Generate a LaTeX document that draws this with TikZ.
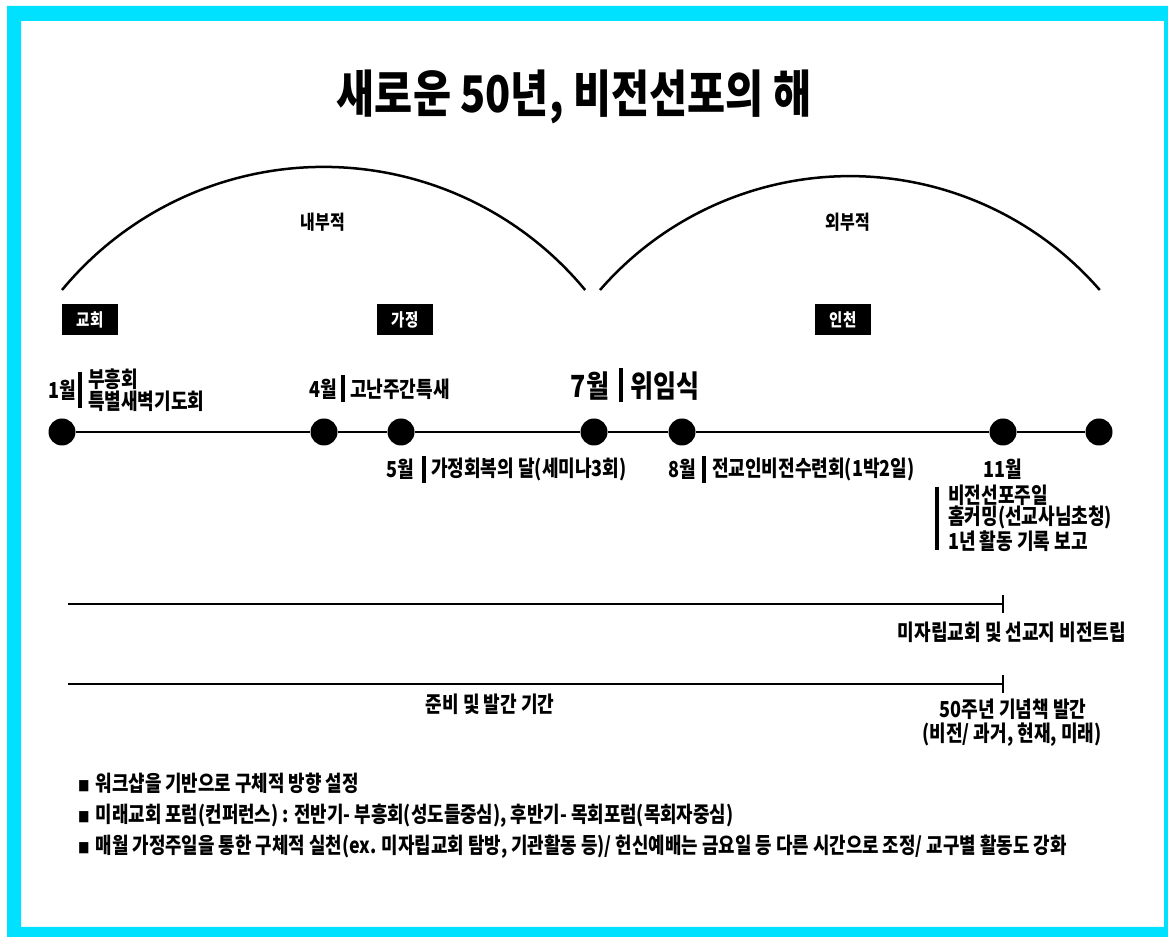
\documentclass[tikz,border=0pt]{standalone}
\usepackage{fontspec}
\setmainfont{Noto Sans CJK KR}[FakeStretch=0.82]
\definecolor{framecyan}{HTML}{00E1FF}
\begin{document}
\begin{tikzpicture}[x=1pt,y=1pt,
  title/.style={font=\fontsize{50.5}{52}\selectfont\bfseries, inner sep=0pt},
  lab/.style={font=\fontsize{22}{21.5}\selectfont\bfseries, inner sep=0pt},
  biglab/.style={font=\fontsize{30.5}{32}\selectfont\bfseries, inner sep=0pt},
  arclab/.style={font=\fontsize{19.5}{20}\selectfont\bfseries, inner sep=0pt},
  tagbox/.style={fill=black, text=white, font=\fontsize{17.6}{18}\selectfont\bfseries,
    minimum width=56pt, minimum height=31pt, inner sep=0pt},
  dot/.style={circle, fill=black, minimum size=27pt, inner sep=0pt},
  arcline/.style={line width=2.5pt},
  tl/.style={line width=2.6pt},
  sepbar/.style={line width=4pt},
  span/.style={line width=2.6pt},
  tick/.style={line width=1.6pt},
  bul/.style={font=\fontsize{21.8}{22}\selectfont\bfseries, inner sep=0pt, anchor=west}
]
\useasboundingbox (0,0) rectangle (1168,937);
\fill[white] (0,0) rectangle (1168,937);
\fill[framecyan, even odd rule] (7,0) rectangle (1168,931) (21,10) rectangle (1164,916);

% title
\node[title] (title) at (574,840) {새로운 50년, 비전선포의 해};

% arcs
\draw[arcline] (62,647) arc[start angle=140.4, end angle=39.6, radius=339.5pt];
\draw[arcline] (600,647) arc[start angle=139.0, end angle=41.0, radius=331.1pt];
\node[arclab] (naebu) at (323,715) {내부적};
\node[arclab] (oebu) at (848,715) {외부적};

% tags
\node[tagbox] (t1) at (90,617) {교회};
\node[tagbox] (t2) at (405,617) {가정};
\node[tagbox] (t3) at (843,617) {인천};

% timeline
\node[dot] (d1) at (62,505) {};
\node[dot] (d2) at (324,505) {};
\node[dot] (d3) at (401,505) {};
\node[dot] (d4) at (594,505) {};
\node[dot] (d5) at (682,505) {};
\node[dot] (d6) at (1003,505) {};
\node[dot] (d7) at (1099,505) {};
\draw[tl] (d1) -- (d2) -- (d3) -- (d4) -- (d5) -- (d6) -- (d7);

% labels above
\node[lab] (m1) at (62,547) {1월};
\draw[sepbar] (80,565) -- (80,529);
\node[lab, anchor=west, align=left] (e1) at (88,547) {부흥회\\특별새벽기도회};

\node[lab] (m4) at (323,548) {4월};
\draw[sepbar] (343,562) -- (343,535);
\node[lab, anchor=west] (e4) at (350,548) {고난주간특새};

\node[biglab] (m7) at (590,551) {7월};
\draw[sepbar] (621,569) -- (621,535);
\node[biglab, anchor=west] (e7) at (630,551) {위임식};

% labels below
\node[lab] (m5) at (400,468) {5월};
\draw[sepbar] (424,481) -- (424,454);
\node[lab, anchor=west] (e5) at (431,468) {가정회복의 달(세미나3회)};

\node[lab] (m8) at (682,468) {8월};
\draw[sepbar] (704,481) -- (704,454);
\node[lab, anchor=west] (e8) at (712,468) {전교인비전수련회(1박2일)};

\node[lab] (m11) at (1003,468) {11월};
\draw[sepbar] (937,450) -- (937,387);
\node[lab, anchor=west, align=left] (e11) at (948,419) {비전선포주일\\홈커밍(선교사님초청)\\1년 활동 기록 보고};

% span lines
\coordinate (s1a) at (68,333);
\coordinate (s1b) at (1003,333);
\draw[span] (s1a) -- (s1b);
\draw[tick] (1003,342) -- (1003,324);
\node[lab] (v1) at (1012,305) {미자립교회 및 선교지 비전트립};

\coordinate (s2a) at (68,253);
\coordinate (s2b) at (1003,253);
\draw[span] (s2a) -- (s2b);
\draw[tick] (1003,262) -- (1003,244);
\node[lab] (v2) at (490,233) {준비 및 발간 기간};
\node[lab] (v3) at (1013,228) {50주년 기념책 발간};
\node[lab] (v4) at (1012,202) {(비전/ 과거, 현재, 미래)};

% bullets
\node[bul] (b1) at (78,154) {{\fontsize{14}{14}\selectfont ■}\hspace{6pt}워크샵을 기반으로 구체적 방향 설정};
\node[bul] (b2) at (78,121) {{\fontsize{14}{14}\selectfont ■}\hspace{6pt}미래교회 포럼(컨퍼런스) : 전반기- 부흥회(성도들중심), 후반기- 목회포럼(목회자중심)};
\node[bul] (b3) at (78,90) {{\fontsize{14}{14}\selectfont ■}\hspace{6pt}매월 가정주일을 통한 구체적 실천(ex. 미자립교회 탐방, 기관활동 등)/ 헌신예배는 금요일 등 다른 시간으로 조정/ 교구별 활동도 강화};
\end{tikzpicture}
\end{document}
